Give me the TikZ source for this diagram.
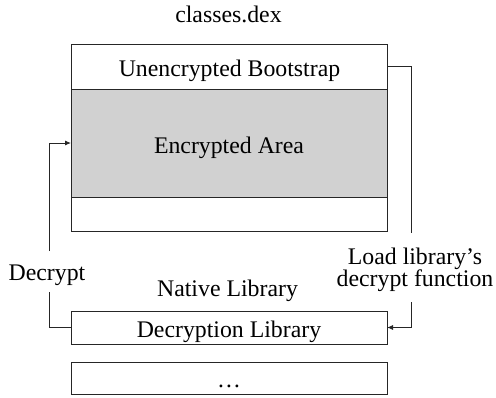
\documentclass[tikz,border=0pt]{standalone}
\usepackage{fontspec}
\setmainfont{Liberation Serif}
\usetikzlibrary{arrows.meta}
\begin{document}
\begin{tikzpicture}[x=1pt,y=-1pt,
  box/.style={draw=black!85, line width=0.9pt, minimum width=316pt, inner sep=0pt, outer sep=0pt},
  txt/.style={font=\fontsize{23.8}{22}\selectfont, inner sep=0pt, anchor=base},
  conn/.style={draw=black!85, line width=0.9pt},
  arr/.style={conn, -{Latex[length=6pt,width=5pt]}}]
\useasboundingbox (0,0) rectangle (496,397);
% boxes
\node[box, minimum height=45pt] (boot) at (229,66.5) {};
\node[box, minimum height=108pt, fill=black!18] (enc) at (229,143) {};
\node[box, minimum height=34pt] (empty) at (229,214) {};
\node[box, minimum height=33pt] (declib) at (229,327.5) {};
\node[box, minimum height=32pt] (more) at (229,378) {};
% texts
\node[txt] (title) at (228.5,22) {classes.dex};
\node[txt] (boottxt) at (229.5,76) {Unencrypted Bootstrap};
\node[txt] (enctxt) at (229,153) {Encrypted Area};
\node[txt] (dectxt) at (229,337) {Decryption Library};
\node[txt] (moretxt) at (229,387) {\dots};
\node[txt] (native) at (227.5,296) {Native Library};
\node[txt] (decrypt) at (47,280) {Decrypt};
\node[txt, align=center, anchor=center] (load) at (415,270) {Load library's\\decrypt function};
% connector ends
\coordinate (ltop) at (49,251);
\coordinate (lbot) at (49,292);
\coordinate (rtop) at (411,233);
\coordinate (rbot) at (411,302);
% connectors
\draw[conn] (declib.west) -| (lbot);
\draw[arr] (ltop) |- (enc.west);
\draw[conn] (boot.east) -| (rtop);
\draw[arr] (rbot) |- (declib.east);
\end{tikzpicture}
\end{document}
